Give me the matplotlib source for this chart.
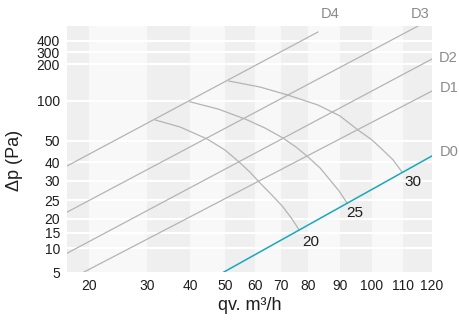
import numpy as np
import matplotlib
matplotlib.use('Agg')
import matplotlib.pyplot as plt

# ================== data ===============================
# axis ticks
x_ticks = [20, 30, 40, 50, 60, 70, 80, 90, 100, 110, 120]
y_ticks = [5, 10, 15, 20, 25, 30, 40, 50, 100, 200, 300, 400]

# nonuniform chart axes: value -> position (relative units)
x_knot_val = [16, 20, 30, 40, 50, 60, 70, 80, 90, 100, 110, 120]
x_knot_pos = [0, 22, 80, 123, 158, 188, 214, 241, 273, 305, 336, 365]
y_knot_val = [5, 10, 15, 20, 25, 30, 40, 50, 100, 200, 300, 400, 550]
y_knot_pos = [0, 24, 39, 53, 72, 91, 110, 131, 171, 208, 220, 231, 246]

# system lines D1..D4 (qv, dp) end points
d_names = ['D4', 'D3', 'D2', 'D1']
d_qv = [[16, 83.1], [16, 115.2], [16, 120], [19.1, 120]]
d_dp = [[37.9, 490], [21.8, 550], [8.9, 241.7], [5, 127]]
d0_qv = [49.7, 120]
d0_dp = [5, 42.9]

# fan curves
curve_names = ['20', '25', '30']
curve_qv = [
    [31.9, 37.7, 44.9, 50.0, 54.7, 58.3, 61.9, 66.5, 70.7, 74.1, 76.7],
    [40.0, 48.0, 56.7, 63.8, 70.7, 75.6, 80.0, 83.8, 86.9, 89.7, 92.2],
    [51.3, 61.9, 72.6, 83.1, 90.0, 95.6, 100.0, 103.5, 106.8, 109.7],
]
curve_dp = [
    [76.3, 67.5, 52.5, 45.7, 40.0, 34.7, 29.5, 26.3, 23.2, 20.0, 16.1],
    [99.0, 90.0, 77.5, 66.3, 53.8, 47.1, 42.4, 36.8, 30.5, 27.4, 24.2],
    [154, 137.8, 116, 95, 81.3, 63.8, 51.3, 45.7, 41.0, 34.7],
]

# ================== style ===============================
plt.rcParams['font.family'] = ['Liberation Sans', 'DejaVu Sans']
line_grey = '#b4b4b4'
cyan = '#17a9ba'
band_dark = '#efefef'
band_light = '#f8f8f8'
text_col = '#1e1e1e'


def fwd(v, kv, kp):
    return np.interp(v, kv, kp)


# ================== plot ===============================
fig = plt.figure(figsize=(4.59, 3.22), dpi=100)
ax = fig.add_axes([67 / 459, 50 / 322, 365 / 459, 246 / 322])

ax.set_xscale('function', functions=(lambda v: fwd(v, x_knot_val, x_knot_pos),
                                     lambda p: fwd(p, x_knot_pos, x_knot_val)))
ax.set_yscale('function', functions=(lambda v: fwd(v, y_knot_val, y_knot_pos),
                                     lambda p: fwd(p, y_knot_pos, y_knot_val)))
ax.set_xlim(x_knot_val[0], x_knot_val[-1])
ax.set_ylim(y_knot_val[0], y_knot_val[-1])

# background bands between x ticks
edges = [x_knot_val[0]] + x_ticks
for i in range(len(edges) - 1):
    ax.axvspan(edges[i], edges[i + 1], color=band_dark if i % 2 == 0 else band_light,
               lw=0, zorder=0)
for yt in y_ticks[1:]:
    ax.axhline(yt, color='white', lw=1.6, zorder=1)

# system lines
d_offsets = [(12, 18), (2, 12), (7, 1), (8, 3)]
d_ha = ['center', 'center', 'left', 'left']
for name, qv, dp, off, ha in zip(d_names, d_qv, d_dp, d_offsets, d_ha):
    ax.plot(qv, dp, color=line_grey, lw=0.9, zorder=2)
    ax.annotate(name, (qv[-1], dp[-1]), xytext=off, textcoords='offset pixels',
                ha=ha, va='center', fontsize=10.5, color='#8a8a8a', annotation_clip=False)

ax.plot(d0_qv, d0_dp, color=cyan, lw=1.1, zorder=3)
ax.annotate('D0', (d0_qv[-1], d0_dp[-1]), xytext=(8, 4), textcoords='offset pixels',
            ha='left', va='center', fontsize=10.5, color='#8a8a8a', annotation_clip=False)

# fan curves
c_offsets = [(12, -12), (8, -10), (11, -10)]
for name, qv, dp, off in zip(curve_names, curve_qv, curve_dp, c_offsets):
    ax.plot(qv, dp, color=line_grey, lw=0.9, zorder=2)
    ax.annotate(name, (qv[-1], dp[-1]), xytext=off, textcoords='offset pixels',
                ha='center', va='center', fontsize=11, color=text_col)

ax.set_xticks(x_ticks)
ax.set_xticklabels([str(t) for t in x_ticks])
ax.set_yticks(y_ticks)
ax.set_yticklabels([str(t) for t in y_ticks])
ax.minorticks_off()
ax.tick_params(length=0, labelsize=10, colors=text_col)
ax.tick_params(axis='x', pad=5)
ax.tick_params(axis='y', pad=5)
for s in ax.spines.values():
    s.set_visible(False)

ax.set_xlabel('qv. m³/h', fontsize=13, color=text_col)
ax.set_ylabel('Δp (Pa)', fontsize=13, color=text_col)
ax.xaxis.set_label_coords(0.501, -0.1)
ax.yaxis.set_label_coords(-0.12, 0.455)

fig.savefig('out.png', dpi=100)
